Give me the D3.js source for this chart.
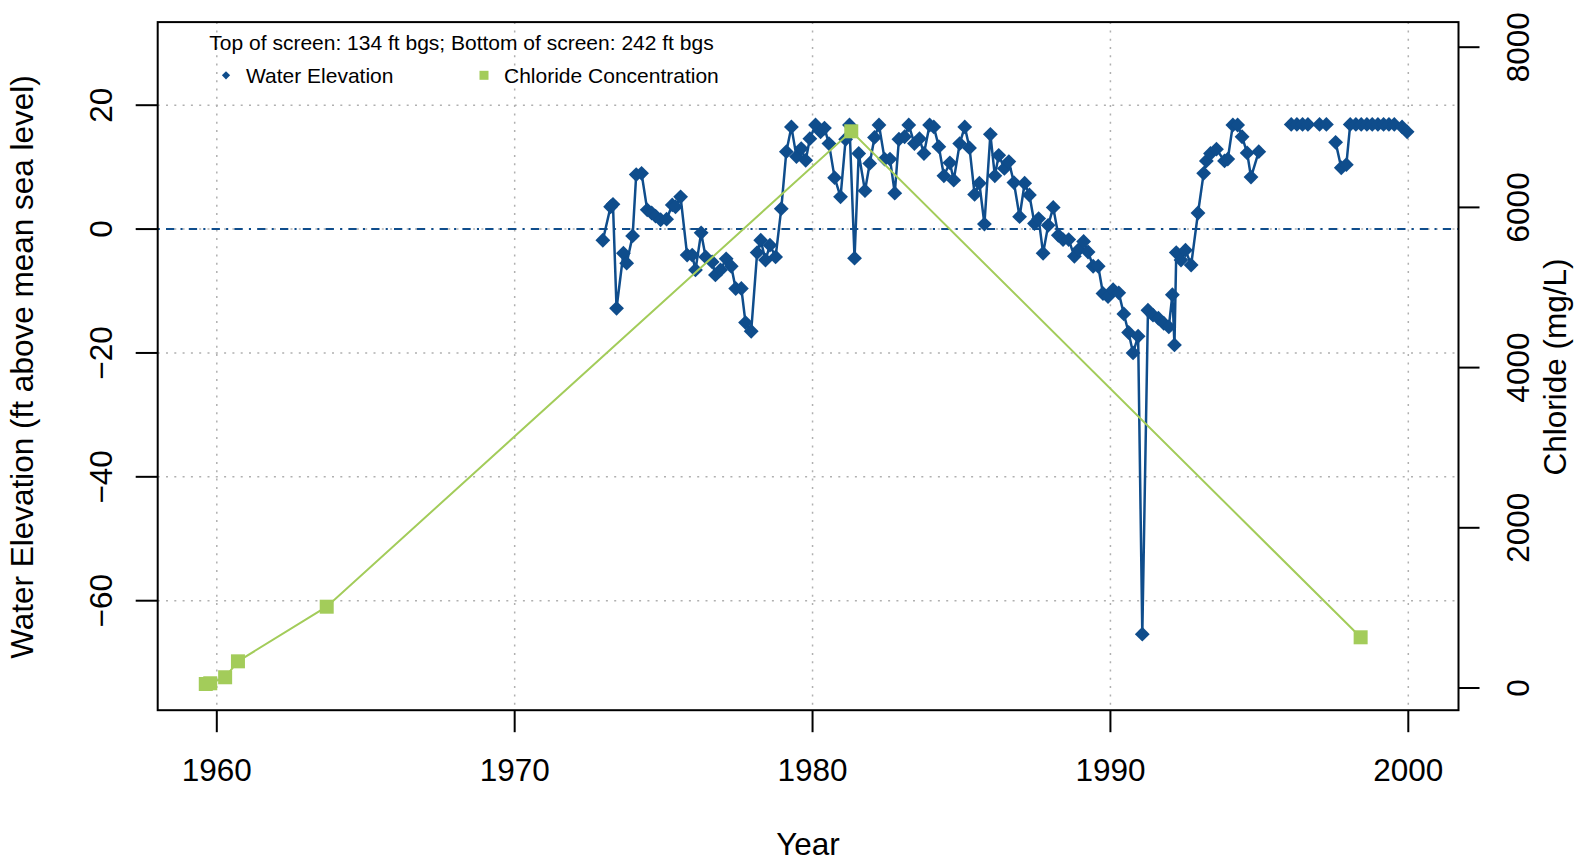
<!DOCTYPE html>
<html>
<head>
<meta charset="utf-8">
<script src="https://cdn.jsdelivr.net/npm/d3@7"></script>
<style>
  html, body { margin: 0; padding: 0; background: #fff; }
  svg { display: block; font-family: "Liberation Sans", Arial, sans-serif; }
</style>
</head>
<body>
<div id="chart"></div>
<script>
// water elevation (ft above msl); null = gap in record
const waterYears = [
  1972.96, 1973.22, 1973.30, 1973.42, 1973.65, 1973.76, 1973.96, 1974.08, 1974.26, 1974.45,
  1974.60, 1974.73, 1974.90, 1975.10, 1975.29, 1975.40, 1975.57, 1975.79, 1975.96, 1976.07,
  1976.26, 1976.41, 1976.63, 1976.74, 1976.91, 1977.10, 1977.27, 1977.42, 1977.61, 1977.75,
  1977.94, 1978.14, 1978.26, 1978.42, 1978.57, 1978.76, 1978.95, 1979.12, 1979.29, 1979.46,
  1979.62, 1979.77, 1979.91, 1980.10, 1980.27, 1980.40, 1980.55, 1980.74, 1980.94, 1981.11,
  1981.24, 1981.41, 1981.55, 1981.76, 1981.92, 1982.08, 1982.23, 1982.42, 1982.60, 1982.76,
  1982.90, 1983.09, 1983.23, 1983.42, 1983.59, 1983.74, 1983.93, 1984.07, 1984.24, 1984.41,
  1984.61, 1984.74, 1984.94, 1985.11, 1985.27, 1985.44, 1985.60, 1985.77, 1985.97, 1986.12,
  1986.25, 1986.44, 1986.59, 1986.76, 1986.95, 1987.12, 1987.28, 1987.45, 1987.59, 1987.74,
  1987.91, 1988.08, 1988.25, 1988.41, 1988.60, 1988.79, 1988.94, 1989.10, 1989.25, 1989.42,
  1989.59, 1989.75, 1989.92, 1990.09, 1990.28, 1990.45, 1990.61, 1990.76, 1990.93, 1991.07,
  1991.26, 1991.43, 1991.61, 1991.79, 1991.96, 1992.08, 1992.15, 1992.21, 1992.37, 1992.52,
  1992.71, 1992.94, 1993.13, 1993.22, 1993.36, 1993.56, 1993.83, 1993.94, 1994.11, 1994.27,
  1994.42, 1994.59, 1994.72, 1994.98, 1995.50, 1996.07, 1996.26, 1996.45, 1996.63, 1997.02,
  1997.25, 1997.40, 1997.56, 1997.75, 1997.92, 1998.05, 1998.24, 1998.42, 1998.61, 1998.79,
  1998.98, 1999.17, 1999.35, 1999.53, 1999.79, 1999.96
];
const waterElev = [
  -1.8, 3.6, 4.0, -12.8, -3.9, -5.5, -1.1, 8.8, 9.0, 3.1,
  2.6, 2.1, 1.5, 1.6, 3.9, 3.6, 5.2, -4.2, -4.2, -6.6,
  -0.6, -4.5, -5.3, -7.4, -6.6, -4.8, -6.0, -9.6, -9.6, -15.1,
  -16.5, -3.8, -1.8, -5.0, -2.6, -4.5, 3.3, 12.5, 16.5, 11.7,
  13.0, 11.1, 14.6, 16.8, 15.7, 16.3, 13.8, 8.3, 5.2, 14.5,
  16.8, -4.7, 12.2, 6.2, 10.6, 14.8, 16.8, 11.3, 11.3, 5.8,
  14.5, 14.9, 16.8, 13.8, 14.6, 12.2, 16.8, 16.5, 13.3, 8.6,
  10.7, 7.9, 13.8, 16.5, 13.1, 5.6, 7.4, 0.8, 15.3, 8.6,
  11.9, 9.8, 10.9, 7.5, 2.0, 7.4, 5.5, 0.9, 1.7, -3.9,
  0.6, 3.5, -1.0, -1.7, -1.7, -4.4, -3.3, -2.0, -3.7, -6.0,
  -6.0, -10.4, -10.9, -9.8, -10.3, -13.7, -16.7, -20.0, -17.3, -65.4,
  -13.1, -13.9, -14.4, -15.2, -15.8, -10.6, -18.7, -3.8, -5.0, -3.4,
  -5.8, 2.6, 9.0, 11.0, 12.2, 12.9, 11.0, 11.3, 16.8, 16.8,
  14.9, 12.3, 8.4, 12.5, null, 16.9, 16.9, 16.9, 16.9, 16.9,
  16.9, null, 14.0, 9.9, 10.4, 16.9, 16.9, 16.9, 16.9, 16.9,
  16.9, 16.9, 16.9, 16.9, 16.5, 15.7
];

// chloride concentration (mg/L)
const chlorideYears = [1959.63, 1959.78, 1960.28, 1960.71, 1963.69, 1981.30, 1998.40];
const chlorideValues = [50, 59, 134, 333, 1015, 6950, 633];

const xTicks = [1960, 1970, 1980, 1990, 2000];
const leftTicks = [-60, -40, -20, 0, 20];
const rightTicks = [0, 2000, 4000, 6000, 8000];

const legendTitle = "Top of screen: 134 ft bgs; Bottom of screen: 242 ft bgs";
const legendLabels = ["Water Elevation", "Chloride Concentration"];

const W = 1575, H = 861;
const blue = "#0f4d8c", green = "#a3cc5a";
const box = { left: 157.7, right: 1458.5, top: 22.1, bottom: 710.2 };

const x = d3.scaleLinear().domain([1960, 2000]).range([216.8, 1408.3]);
const yL = d3.scaleLinear().domain([-60, 20]).range([600.7, 105.2]);
const yR = d3.scaleLinear().domain([0, 8000]).range([688, 47.2]);

const svg = d3.select("#chart").append("svg")
    .attr("width", W)
    .attr("height", H);

svg.append("rect").attr("width", W).attr("height", H).attr("fill", "#fff");

svg.append("clipPath").attr("id", "plot-clip")
  .append("rect")
    .attr("x", box.left).attr("y", box.top)
    .attr("width", box.right - box.left).attr("height", box.bottom - box.top);

// grid
const grid = svg.append("g")
    .attr("stroke", "#b0b0b0")
    .attr("stroke-width", 1.5)
    .attr("stroke-dasharray", "2,6.3");

grid.selectAll("line.v").data(xTicks).enter().append("line")
    .attr("x1", d => x(d)).attr("x2", d => x(d))
    .attr("y1", box.top).attr("y2", box.bottom);

grid.selectAll("line.h").data(leftTicks).enter().append("line")
    .attr("x1", box.left).attr("x2", box.right)
    .attr("y1", d => yL(d)).attr("y2", d => yL(d));

// zero line
svg.append("line")
    .attr("x1", box.left).attr("x2", box.right)
    .attr("y1", yL(0)).attr("y2", yL(0))
    .attr("stroke", blue)
    .attr("stroke-width", 2)
    .attr("stroke-dasharray", "2.1,6.2,8.3,6.2");

const plot = svg.append("g").attr("clip-path", "url(#plot-clip)");

// water elevation
const water = waterYears.map((yr, i) => ({ x: yr, v: waterElev[i] }));

const waterLine = d3.line()
    .defined(d => d.v != null)
    .x(d => x(d.x))
    .y(d => yL(d.v));

plot.append("path")
    .datum(water)
    .attr("d", waterLine)
    .attr("fill", "none")
    .attr("stroke", blue)
    .attr("stroke-width", 2.5)
    .attr("stroke-linejoin", "round");

const diamond = d3.symbol().type(d3.symbolSquare).size(110);

plot.selectAll("path.wpt")
    .data(water.filter(d => d.v != null))
    .enter().append("path")
    .attr("class", "wpt")
    .attr("d", diamond)
    .attr("transform", d => `translate(${x(d.x)},${yL(d.v)}) rotate(45)`)
    .attr("fill", blue);

// chloride
const chloride = chlorideYears.map((yr, i) => ({ x: yr, v: chlorideValues[i] }));

plot.append("path")
    .datum(chloride)
    .attr("d", d3.line().x(d => x(d.x)).y(d => yR(d.v)))
    .attr("fill", "none")
    .attr("stroke", green)
    .attr("stroke-width", 2);

plot.selectAll("rect.cpt")
    .data(chloride)
    .enter().append("rect")
    .attr("class", "cpt")
    .attr("x", d => x(d.x) - 7)
    .attr("y", d => yR(d.v) - 7)
    .attr("width", 14)
    .attr("height", 14)
    .attr("fill", green);

// frame
svg.append("rect")
    .attr("x", box.left).attr("y", box.top)
    .attr("width", box.right - box.left).attr("height", box.bottom - box.top)
    .attr("fill", "none")
    .attr("stroke", "#000")
    .attr("stroke-width", 2);

const tickLen = 22;
const fs = 31.5;
const minus = n => String(n).replace("-", "\u2212");

// bottom axis
const bx = svg.append("g");
bx.selectAll("line").data(xTicks).enter().append("line")
    .attr("x1", d => x(d)).attr("x2", d => x(d))
    .attr("y1", box.bottom).attr("y2", box.bottom + tickLen)
    .attr("stroke", "#000").attr("stroke-width", 2);
bx.selectAll("text").data(xTicks).enter().append("text")
    .attr("x", d => x(d))
    .attr("y", 781)
    .attr("text-anchor", "middle")
    .attr("font-size", fs)
    .text(d => d);

// left axis
const lx = svg.append("g");
lx.selectAll("line").data(leftTicks).enter().append("line")
    .attr("x1", box.left - tickLen).attr("x2", box.left)
    .attr("y1", d => yL(d)).attr("y2", d => yL(d))
    .attr("stroke", "#000").attr("stroke-width", 2);
lx.selectAll("text").data(leftTicks).enter().append("text")
    .attr("transform", d => `translate(112,${yL(d)}) rotate(-90)`)
    .attr("text-anchor", "middle")
    .attr("font-size", fs)
    .text(d => minus(d));

// right axis
const rx = svg.append("g");
rx.selectAll("line").data(rightTicks).enter().append("line")
    .attr("x1", box.right).attr("x2", box.right + tickLen - 1)
    .attr("y1", d => yR(d)).attr("y2", d => yR(d))
    .attr("stroke", "#000").attr("stroke-width", 2);
rx.selectAll("text").data(rightTicks).enter().append("text")
    .attr("transform", d => `translate(1528.5,${yR(d)}) rotate(-90)`)
    .attr("text-anchor", "middle")
    .attr("font-size", fs)
    .text(d => d);

// axis titles
svg.append("text")
    .attr("x", 808).attr("y", 855)
    .attr("text-anchor", "middle")
    .attr("font-size", fs)
    .text("Year");

svg.append("text")
    .attr("transform", `translate(33,367) rotate(-90)`)
    .attr("text-anchor", "middle")
    .attr("font-size", fs)
    .text("Water Elevation (ft above mean sea level)");

svg.append("text")
    .attr("transform", `translate(1566,367) rotate(-90)`)
    .attr("text-anchor", "middle")
    .attr("font-size", fs)
    .text("Chloride (mg/L)");

// legend
const lg = svg.append("g").attr("font-size", 21);
lg.append("text")
    .attr("x", 461.5).attr("y", 42.2)
    .attr("dy", "0.35em")
    .attr("text-anchor", "middle")
    .text(legendTitle);

lg.append("path")
    .attr("d", d3.symbol().type(d3.symbolSquare).size(34)())
    .attr("transform", "translate(226,75.3) rotate(45)")
    .attr("fill", blue);
lg.append("text")
    .attr("x", 246).attr("y", 75.3).attr("dy", "0.35em")
    .text(legendLabels[0]);

lg.append("rect")
    .attr("x", 484 - 4.5).attr("y", 75.3 - 4.5)
    .attr("width", 9).attr("height", 9)
    .attr("fill", green);
lg.append("text")
    .attr("x", 504).attr("y", 75.3).attr("dy", "0.35em")
    .text(legendLabels[1]);
</script>
</body>
</html>
